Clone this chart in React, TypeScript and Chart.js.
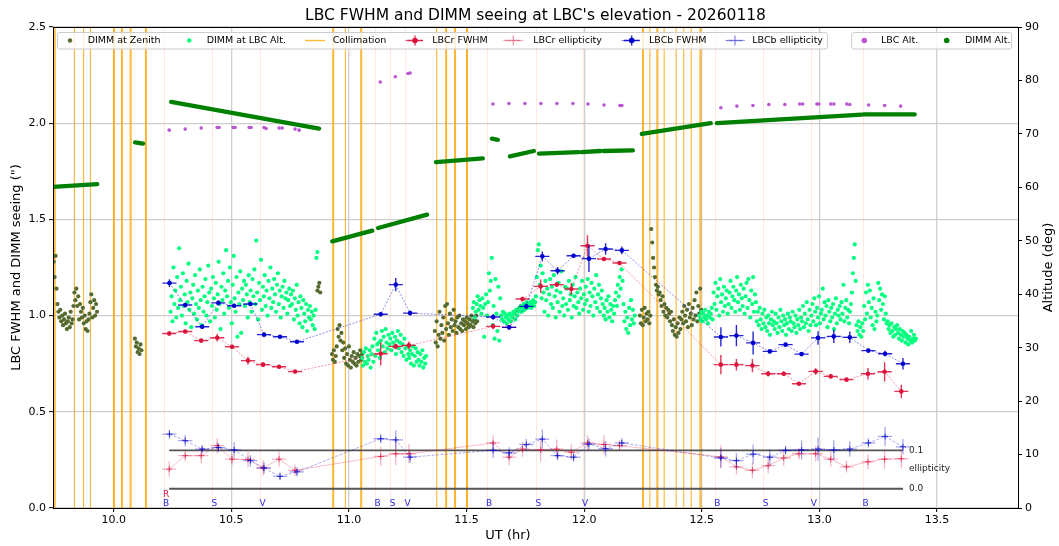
import React, { useEffect, useRef } from 'react';
import { Chart, registerables } from 'chart.js';
Chart.register(...registerables);

const FONT = "'DejaVu Sans', 'Liberation Sans', sans-serif";

// ---------------- axes ----------------
const X_MIN = 9.742;
const X_MAX = 13.844;
const X_TICKS = [10.0, 10.5, 11.0, 11.5, 12.0, 12.5, 13.0, 13.5];
const Y_TICKS = [0.0, 0.5, 1.0, 1.5, 2.0, 2.5];
const ALT_TICKS = [0, 10, 20, 30, 40, 50, 60, 70, 80, 90];

// ---------------- DIMM seeing (sampled every DIMM_DT hours) ----------------
const DIMM_DT = 0.004;
const zenA_T0 = 9.745;
const zenA = [1.28, 1.20, 1.31, 1.14, 1.06, 1.02, 0.99, 1.03, 0.97, 1.00, 0.95, 0.98, 1.01, 0.96,
  0.93, 0.97, 0.99, 0.94, 1.02, 0.96, 0.98, 1.05, 1.12, 1.08, 1.14, 1.05, 1.10, 0.98, 1.06, 1.02,
  0.99, 1.04, 0.96, 1.00, 0.93, 0.97, 0.92, 0.98, 1.01, 1.07, 1.11, 0.99, 1.04, 1.08, 1.00, 1.06, 1.02];
const zenB_T0 = 10.090;
const zenB = [0.88, 0.84, 0.86, 0.81, 0.83, 0.80, 0.85, 0.82];
const zenC_T0 = 10.866;
const zenC = [1.13, 1.15, 1.17, 1.12];
const zenD_T0 = 10.928;
const zenD = [0.80, 0.77, 0.82, 0.76, 0.79, 0.84, 0.93, 0.89, 0.95, 0.87, 0.91, 0.82, 0.86, 0.78, 0.83,
  0.75, 0.80, 0.74, 0.84, 0.77, 0.73, 0.79, 0.76, 0.81, 0.75, 0.78, 0.74, 0.80, 0.76, 0.79, 0.82, 0.77, 0.80];
const zenE_T0 = 11.365;
const zenE = [0.92, 0.86, 0.97, 0.84, 0.90, 1.02, 0.88, 0.95, 0.91, 0.99, 0.87, 1.05, 0.93, 1.06, 0.96,
  0.90, 1.01, 0.94, 0.98, 0.92, 1.03, 0.95, 0.97, 0.91, 0.99, 0.94, 1.00, 0.93, 0.96, 0.92, 0.98, 0.95,
  0.97, 0.93, 0.99, 0.96, 0.94, 0.98, 0.95, 1.00, 0.97, 0.94, 0.98, 0.96, 1.00, 0.97];
const zenG_T0 = 12.237;
const zenG = [1.00, 0.96, 1.03, 0.95, 0.99, 1.04, 0.97, 1.01, 0.98, 1.02, 0.96, 1.00,
  1.45, 1.38, 1.30, 1.25, 1.20, 1.16, 1.13, 1.15, 1.11, 1.12,
  1.08, 1.05, 1.10, 1.02, 1.06, 1.00, 1.04, 0.99, 1.03, 1.01, 0.97, 1.02,
  0.95, 0.92, 0.98, 0.90, 0.94, 0.89, 0.96, 0.91, 0.99, 0.93,
  0.98, 1.02, 0.96, 1.05, 1.00, 0.97, 1.03, 0.94, 1.06, 0.99, 1.01, 0.95, 1.04, 0.98, 1.08, 1.00,
  1.12, 0.97, 1.05, 1.01, 1.14, 1.03];

const altP_T0 = 10.238;
const altP = [1.17, 1.02, 1.10, 0.97, 1.25, 1.06, 1.13, 0.99, 1.20, 1.04,
  1.35, 1.08, 1.15, 1.00, 1.22, 1.05, 1.11, 0.96, 1.18, 1.07,
  1.27, 1.03, 1.12, 0.94, 1.09, 1.16, 1.01, 1.21, 1.06, 0.98,
  1.13, 1.04, 1.24, 1.08, 0.95, 1.15, 1.02, 1.10, 1.19, 1.00,
  1.07, 1.26, 1.12, 0.97, 1.14, 1.05, 1.20, 1.09, 0.99, 1.17,
  1.03, 1.11, 1.28, 1.06, 0.93, 1.15, 1.08, 1.22, 1.01, 1.13,
  1.34, 1.10, 1.18, 1.04, 1.25, 1.07, 0.96, 1.16, 1.31, 1.09,
  1.02, 1.20, 0.89, 1.12, 1.06, 1.23, 0.91, 1.14, 1.08, 1.18,
  1.05, 1.16, 1.11, 0.99, 1.21, 1.07, 1.13, 1.02, 1.19, 1.10,
  1.24, 1.06, 1.39, 1.12, 0.98, 1.17, 1.08, 1.29, 1.03, 1.15,
  1.10, 1.21, 1.05, 1.13, 1.00, 1.18, 1.09, 1.25, 1.04, 1.14,
  1.07, 1.19, 1.11, 1.02, 1.16, 1.22, 1.06, 1.13, 0.99, 1.10,
  1.15, 1.04, 1.18, 1.09, 1.12, 1.01, 1.08, 1.14, 1.05, 1.11,
  1.06, 1.13, 0.98, 1.09, 1.03, 1.16, 1.00, 1.07, 0.96, 1.10,
  1.04, 0.94, 1.08, 1.01, 0.97, 1.06, 0.92, 1.03, 0.99, 1.05,
  0.98, 1.02, 0.95, 1.00, 0.93, 1.03, 1.30, 1.33];
const altQ_T0 = 11.056;
const altQ = [0.78, 0.74, 0.81, 0.76, 0.83, 0.75, 0.79, 0.77, 0.82, 0.73,
  0.80, 0.84, 0.76, 0.88, 0.79, 0.91, 0.85, 0.82, 0.86, 0.78,
  0.87, 0.92, 0.84, 0.89, 0.81, 0.93, 0.86, 0.83, 0.90, 0.85,
  0.88, 0.82, 0.91, 0.86, 0.84, 0.89, 0.80, 0.87, 0.92, 0.83,
  0.86, 0.90, 0.81, 0.85, 0.79, 0.88, 0.83, 0.77, 0.84, 0.80,
  0.78, 0.82, 0.75, 0.80, 0.84, 0.74, 0.79, 0.83, 0.76, 0.81,
  0.77, 0.74, 0.80, 0.76, 0.82, 0.73, 0.78, 0.75, 0.79];
const altR_T0 = 11.527;
const altR = [1.04, 1.07, 0.99, 1.02, 1.06, 1.10, 1.03, 1.08, 1.05, 1.01,
  1.09, 1.04, 0.89, 1.06, 1.11, 1.00, 1.07, 1.22, 1.13, 1.18,
  1.30, 0.95, 1.05, 0.88, 1.19, 1.01, 0.92, 1.15, 0.87, 1.09,
  1.00, 0.98, 1.02, 0.97, 1.01, 0.99, 0.96, 1.00, 0.98, 1.01,
  0.97, 1.00, 0.99, 1.02, 1.01, 0.98, 1.03, 1.00, 1.02, 1.04,
  1.03, 1.05, 1.02, 1.04, 1.06, 1.03, 1.05, 1.07, 1.04, 1.06,
  1.05, 1.07, 1.04, 1.06, 1.08, 1.05, 1.07, 1.10, 1.20, 1.34,
  1.37, 1.16, 1.26, 1.09, 1.22, 1.12, 1.02, 1.18, 1.08, 1.14,
  1.00, 1.11, 1.19, 1.06, 1.15, 1.04, 1.21, 1.10, 0.99, 1.13,
  1.07, 1.17, 1.02, 1.12, 1.23, 1.05, 1.09, 1.00, 1.15, 1.06,
  1.14, 1.03, 1.18, 1.08, 1.11, 0.99, 1.16, 1.05, 1.10, 1.20,
  1.04, 1.12, 1.07, 1.01, 1.14, 1.09, 1.18, 1.03, 1.11, 1.06,
  1.15, 1.08, 1.19, 1.02, 1.12, 1.05, 1.17, 1.10, 1.00, 1.14,
  1.07, 1.21, 1.04, 1.11, 1.16, 1.02, 1.09, 1.13, 1.06, 1.00,
  1.04, 0.98, 1.08, 1.02, 1.10, 0.99, 1.06, 1.03, 0.97, 1.05,
  1.01, 1.08, 1.12, 1.05, 1.16, 1.10, 1.20, 1.14, 1.24, 1.18,
  1.06, 0.97, 1.02, 0.93, 0.99, 0.91, 1.04, 0.95, 1.08, 0.98,
  1.03, 0.96, 1.00];
const altH_T0 = 12.490;
const altH = [1.00, 0.98, 1.02, 0.97, 1.01, 0.99, 1.03, 0.98, 1.00, 0.96,
  1.02, 0.99, 1.01, 1.04, 0.98, 1.12, 1.06, 1.17, 1.03, 1.10,
  1.14, 1.00, 1.19, 1.07, 1.11, 1.02, 1.15, 1.05, 1.09, 1.13,
  1.01, 1.06, 1.12, 1.18, 1.04, 1.10, 1.15, 1.08, 1.02, 1.13,
  1.20, 1.07, 1.11, 1.03, 1.16, 1.09, 1.05, 1.14, 1.01, 1.10,
  1.17, 1.04, 1.19, 1.08, 0.99, 1.13, 1.06, 1.20, 1.02, 1.11,
  1.07, 0.97, 1.02, 0.95, 1.04, 0.98, 0.93, 1.01, 0.96, 1.03,
  0.94, 0.99, 0.92, 1.00, 0.96, 0.90, 0.98, 1.02, 0.95, 0.97,
  0.93, 1.01, 0.96, 0.91, 0.99, 0.94, 1.03, 0.97, 0.92, 1.00,
  0.95, 0.98, 0.90, 0.96, 1.01, 0.93, 0.99, 0.97, 0.92, 1.02,
  0.96, 0.94, 1.00, 0.91, 0.98, 0.95, 1.03, 0.93, 0.99, 0.97,
  1.05, 0.94, 1.01, 0.96, 1.07, 0.98, 0.92, 1.03, 0.95, 1.00,
  1.06, 0.97, 1.09, 1.02, 0.95, 1.04, 0.99, 1.10, 0.96, 1.01,
  1.03, 1.14, 0.98, 1.07, 1.00, 1.05, 0.94, 1.08, 1.02, 0.97,
  1.04, 0.99, 1.06, 0.93, 1.01, 1.09, 0.96, 1.03, 1.00, 1.05,
  0.98, 1.07, 1.01, 1.16, 0.97, 1.04, 1.08, 0.99, 1.03, 0.96,
  1.02, 1.06, 1.12, 1.22, 1.30, 1.37, 1.18, 0.95, 0.92, 0.97,
  0.90, 0.94, 0.89, 0.96, 0.92, 1.05, 0.98, 1.12, 1.01, 1.16,
  1.07, 1.13, 0.99, 1.04, 0.95, 1.09, 0.93, 1.02, 0.97, 1.00,
  1.17, 1.08, 1.14, 1.03, 1.11, 1.06, 0.98, 1.10, 1.01, 0.96,
  0.97, 0.93, 0.95, 0.91, 0.96, 0.92, 0.89, 0.94, 0.90, 0.93,
  0.95, 0.91, 0.88, 0.93, 0.90, 0.87, 0.92, 0.89, 0.91, 0.86,
  0.90, 0.88, 0.85, 0.89, 0.87, 0.92, 0.86, 0.88, 0.90, 0.87, 0.88];

// ---------------- collimation & filter changes ----------------
const collimationT = [9.747, 9.751, 9.833, 9.872, 9.901, 9.999, 10.003, 10.033, 10.037, 10.070, 10.074,
  10.135, 10.139, 10.931, 10.935, 10.985, 11.050, 11.054, 11.373, 11.411, 11.415, 11.449, 11.453,
  11.500, 11.504, 12.248, 12.252, 12.279, 12.309, 12.313, 12.340, 12.391, 12.423, 12.455, 12.492, 12.496];
const filterT = [10.212, 10.417, 10.622, 11.111, 11.175, 11.239, 11.585, 11.794, 11.993, 12.555, 12.760, 12.966, 13.185];
const filterBlue = ['B', 'S', 'V', 'B', 'S', 'V', 'B', 'S', 'V', 'B', 'S', 'V', 'B'];
const filterRedT = [10.212];
const filterRed = ['R'];

// ---------------- LBC image quality ----------------
const redT = [10.236, 10.304, 10.372, 10.440, 10.503, 10.571, 10.635, 10.703, 10.771, 11.135, 11.199, 11.255,
  11.613, 11.681, 11.738, 11.815, 11.883, 11.945, 12.014, 12.084, 12.150, 12.581, 12.647, 12.715, 12.782,
  12.848, 12.913, 12.984, 13.048, 13.115, 13.206, 13.277, 13.348];
const redFwhm = [0.907, 0.917, 0.870, 0.885, 0.838, 0.766, 0.745, 0.734, 0.709, 0.802, 0.840, 0.845,
  0.944, 0.939, 1.086, 1.152, 1.161, 1.138, 1.363, 1.294, 1.273, 0.745, 0.745, 0.740, 0.698,
  0.698, 0.646, 0.710, 0.684, 0.667, 0.698, 0.708, 0.606];
const redFwhmErr = [0.012, 0.01, 0.008, 0.02, 0.01, 0.02, 0.012, 0.008, 0.006, 0.06, 0.015, 0.02,
  0.015, 0.01, 0.012, 0.035, 0.012, 0.03, 0.055, 0.008, 0.008, 0.05, 0.03, 0.035, 0.015,
  0.012, 0.008, 0.017, 0.008, 0.008, 0.03, 0.05, 0.035];
const redEll = [0.051, 0.086, 0.086, 0.112, 0.077, 0.076, 0.054, 0.077, 0.048, 0.084, 0.091, 0.091,
  0.119, 0.082, 0.103, 0.101, 0.103, 0.095, 0.119, 0.115, 0.112, 0.083, 0.057, 0.048, 0.060,
  0.080, 0.091, 0.091, 0.077, 0.057, 0.070, 0.077, 0.078];
const redEllErr = [0.02, 0.015, 0.02, 0.02, 0.015, 0.02, 0.02, 0.02, 0.015, 0.025, 0.03, 0.025,
  0.02, 0.02, 0.02, 0.03, 0.025, 0.02, 0.02, 0.025, 0.015, 0.03, 0.02, 0.02, 0.02,
  0.02, 0.015, 0.02, 0.02, 0.015, 0.02, 0.025, 0.025];

const blueT = [10.237, 10.304, 10.376, 10.445, 10.512, 10.581, 10.639, 10.707, 10.779, 11.135, 11.199, 11.260,
  11.613, 11.681, 11.754, 11.822, 11.887, 11.955, 12.020, 12.091, 12.160, 12.581, 12.647, 12.718, 12.789,
  12.856, 12.924, 12.994, 13.061, 13.129, 13.208, 13.279, 13.355];
const blueFwhm = [1.169, 1.055, 0.942, 1.066, 1.051, 1.060, 0.901, 0.890, 0.864, 1.007, 1.161, 1.013,
  0.993, 0.939, 1.048, 1.308, 1.233, 1.311, 1.296, 1.346, 1.339, 0.889, 0.896, 0.858, 0.814,
  0.849, 0.800, 0.884, 0.892, 0.887, 0.818, 0.802, 0.750];
const blueFwhmErr = [0.02, 0.012, 0.01, 0.012, 0.01, 0.01, 0.008, 0.008, 0.008, 0.01, 0.035, 0.012,
  0.015, 0.01, 0.015, 0.025, 0.02, 0.01, 0.07, 0.03, 0.02, 0.05, 0.055, 0.06, 0.008,
  0.01, 0.008, 0.035, 0.035, 0.03, 0.01, 0.015, 0.03];
const blueEll = [0.142, 0.125, 0.103, 0.107, 0.101, 0.073, 0.054, 0.032, 0.044, 0.130, 0.127, 0.082,
  0.100, 0.093, 0.115, 0.129, 0.086, 0.082, 0.116, 0.104, 0.119, 0.080, 0.073, 0.090, 0.082,
  0.100, 0.101, 0.103, 0.101, 0.103, 0.119, 0.136, 0.109];
const blueEllErr = [0.012, 0.015, 0.01, 0.012, 0.02, 0.015, 0.015, 0.01, 0.012, 0.012, 0.025, 0.015,
  0.02, 0.015, 0.015, 0.025, 0.012, 0.012, 0.015, 0.02, 0.012, 0.025, 0.02, 0.025, 0.02,
  0.012, 0.025, 0.03, 0.025, 0.02, 0.012, 0.025, 0.02];
const EXPOSURE_HALF = 0.03; // hours, x error bar
const ELL_BASE = 0.1;        // ellipticity 0 is drawn at 0.1 on the seeing axis
const ELL_GAIN = 2;          // 0.1 ellipticity = 0.2 on the seeing axis
const ELL_LEVELS = [0.0, 0.1];

// ---------------- altitudes (deg) ----------------
const lbcAltT = [10.236, 10.304, 10.372, 10.440, 10.448, 10.508, 10.516, 10.576, 10.584, 10.639, 10.648,
  10.703, 10.716, 10.771, 10.788, 11.133, 11.197, 11.251, 11.260, 11.612, 11.680, 11.748, 11.816, 11.884,
  11.952, 12.016, 12.084, 12.152, 12.160, 12.581, 12.649, 12.717, 12.785, 12.853, 12.916, 12.929, 12.989,
  12.997, 13.048, 13.061, 13.116, 13.129, 13.209, 13.277, 13.345];
const lbcAltDeg = [70.7, 70.9, 71.1, 71.2, 71.2, 71.2, 71.2, 71.2, 71.2, 71.2, 71.0, 71.1, 71.1, 70.9, 70.7,
  79.7, 80.7, 81.3, 81.4, 75.6, 75.7, 75.7, 75.7, 75.7, 75.7, 75.6, 75.4, 75.3, 75.3,
  74.9, 75.2, 75.3, 75.5, 75.5, 75.6, 75.6, 75.6, 75.6, 75.6, 75.6, 75.6, 75.5, 75.4, 75.3, 75.2];
const dimmAltStartT = [9.742, 10.091, 10.244, 10.929, 11.124, 11.370, 11.608, 11.684, 11.808, 11.989, 12.082, 12.245, 12.564, 13.188];
const dimmAltStartDeg = [60.1, 68.4, 76.0, 49.9, 52.4, 64.7, 69.1, 65.8, 66.3, 66.6, 66.8, 70.0, 72.0, 73.65];
const dimmAltEndT = [9.930, 10.125, 10.873, 11.099, 11.332, 11.569, 11.633, 11.786, 11.976, 12.069, 12.207, 12.538, 13.180, 13.405];
const dimmAltEndDeg = [60.6, 68.2, 71.0, 51.9, 54.9, 65.4, 68.9, 66.8, 66.6, 66.8, 66.9, 72.0, 73.6, 73.65];

// ---------------- helpers ----------------
const sampled = (t0: number, vs: number[]) => vs.map((v, i) => ({ x: t0 + i * DIMM_DT, y: v }));
const pairs = (ts: number[], vs: number[]) => ts.map((t, i) => ({ x: t, y: vs[i] }));
const ellPts = (ts: number[], es: number[]) => ts.map((t, i) => ({ x: t, y: ELL_BASE + ELL_GAIN * es[i] }));

const C_OLIVE = '#556B2F';
const C_SPRING = '#00FF7F';
const C_ORANGE = 'rgba(255,165,0,0.8)';
const C_RED = '#DC143C';
const C_BLUE = '#0000CD';
const C_ORCHID = '#BA55D3';
const C_GREEN = '#008000';

const errorBarPlugin = {
  id: 'errorBars',
  beforeDatasetDraw(chart: any, args: any) {
    const ds: any = chart.data.datasets[args.index];
    if (!ds.errY) return;
    const xs = chart.scales.x;
    const ys = chart.scales[ds.yAxisID || 'y'];
    const ctx = chart.ctx;
    ctx.save();
    ctx.strokeStyle = ds.errColor;
    ctx.lineWidth = ds.errWidth;
    ds.data.forEach((p: any, i: number) => {
      const px = xs.getPixelForValue(p.x);
      const py = ys.getPixelForValue(p.y);
      ctx.beginPath();
      ctx.moveTo(xs.getPixelForValue(p.x - ds.errX), py);
      ctx.lineTo(xs.getPixelForValue(p.x + ds.errX), py);
      ctx.moveTo(px, ys.getPixelForValue(p.y - ds.errY[i]));
      ctx.lineTo(px, ys.getPixelForValue(p.y + ds.errY[i]));
      ctx.stroke();
    });
    ctx.restore();
  },
};

function drawLegend(ctx: CanvasRenderingContext2D) {
  const cy = 40.5;
  const box = (x0: number, x1: number) => {
    ctx.save();
    ctx.beginPath();
    ctx.roundRect(x0, 32.5, x1 - x0, 16.5, 2.5);
    ctx.fillStyle = 'rgba(255,255,255,0.8)';
    ctx.fill();
    ctx.strokeStyle = '#cccccc';
    ctx.lineWidth = 1;
    ctx.stroke();
    ctx.restore();
  };
  const dot = (x: number, r: number, c: string) => {
    ctx.beginPath(); ctx.arc(x, cy, r, 0, Math.PI * 2); ctx.fillStyle = c; ctx.fill();
  };
  const text = (x: number, s: string) => {
    ctx.fillStyle = '#000'; ctx.font = `9.5px ${FONT}`; ctx.textAlign = 'left'; ctx.textBaseline = 'middle';
    ctx.fillText(s, x, cy + 0.5);
  };
  const errMark = (x: number, col: string, lineCol: string, bar: string, filled: boolean) => {
    ctx.save();
    ctx.strokeStyle = lineCol; ctx.lineWidth = 1; ctx.setLineDash(filled ? [2, 2] : [3, 1.5]);
    ctx.beginPath(); ctx.moveTo(x - 10, cy); ctx.lineTo(x + 10, cy); ctx.stroke();
    ctx.setLineDash([]);
    ctx.strokeStyle = bar; ctx.lineWidth = 1.3;
    ctx.beginPath(); ctx.moveTo(x - 8, cy); ctx.lineTo(x + 8, cy); ctx.moveTo(x, cy - 5); ctx.lineTo(x, cy + 5); ctx.stroke();
    if (filled) { dot(x, 2.8, col); }
    ctx.restore();
  };
  box(57.5, 827.5);
  dot(70, 2.2, C_OLIVE); text(87.7, 'DIMM at Zenith');
  dot(189.3, 2.2, C_SPRING); text(206.7, 'DIMM at LBC Alt.');
  ctx.strokeStyle = C_ORANGE; ctx.lineWidth = 1.3;
  ctx.beginPath(); ctx.moveTo(305, cy); ctx.lineTo(325, cy); ctx.stroke();
  text(332.7, 'Collimation');
  errMark(415, C_RED, 'rgba(220,20,60,0.5)', 'rgba(220,20,60,0.9)', true); text(432.3, 'LBCr FWHM');
  errMark(513.3, C_RED, 'rgba(220,20,60,0.35)', 'rgba(220,20,60,0.45)', false); text(533.3, 'LBCr ellipticity');
  errMark(631.7, C_BLUE, 'rgba(0,0,205,0.5)', 'rgba(0,0,205,0.9)', true); text(649, 'LBCb FWHM');
  errMark(735, C_BLUE, 'rgba(0,0,205,0.35)', 'rgba(0,0,205,0.45)', false); text(752.3, 'LBCb ellipticity');
  box(851.7, 1011.7);
  dot(864.3, 2.8, C_ORCHID); text(881, 'LBC Alt.');
  dot(946.7, 2.8, C_GREEN); text(965, 'DIMM Alt.');
}

const overlayPlugin = {
  id: 'overlay',
  beforeDatasetsDraw(chart: any) {
    const { ctx, chartArea: a, scales } = chart;
    const xs = scales.x;
    ctx.save();
    ctx.beginPath();
    ctx.rect(a.left, a.top, a.right - a.left, a.bottom - a.top);
    ctx.clip();
    ctx.lineWidth = 1;
    ctx.strokeStyle = 'rgba(250,150,110,0.22)';
    filterT.forEach((t) => {
      const px = Math.round(xs.getPixelForValue(t)) + 0.5;
      ctx.beginPath(); ctx.moveTo(px, a.top); ctx.lineTo(px, a.bottom); ctx.stroke();
    });
    ctx.strokeStyle = C_ORANGE;
    ctx.lineWidth = 1.1;
    collimationT.forEach((t) => {
      const px = xs.getPixelForValue(t);
      ctx.beginPath(); ctx.moveTo(px, a.top); ctx.lineTo(px, a.bottom); ctx.stroke();
    });
    ctx.restore();
  },
  afterDatasetsDraw(chart: any) {
    const { ctx, scales } = chart;
    const xs = scales.x, ys = scales.y;
    ctx.save();
    ctx.font = `9px ${FONT}`;
    ctx.textAlign = 'center';
    ctx.textBaseline = 'middle';
    ctx.fillStyle = 'rgb(40,40,220)';
    filterT.forEach((t, i) => ctx.fillText(filterBlue[i], xs.getPixelForValue(t) + 2.5, ys.getPixelForValue(0.022)));
    ctx.fillStyle = C_RED;
    filterRedT.forEach((t, i) => ctx.fillText(filterRed[i], xs.getPixelForValue(t) + 2.5, ys.getPixelForValue(0.068)));
    // ellipticity scale labels
    const xEnd = xs.getPixelForValue(Math.max(redT[redT.length - 1], blueT[blueT.length - 1])) + 6;
    ctx.textAlign = 'left';
    ctx.fillStyle = '#222';
    ELL_LEVELS.forEach((e) => ctx.fillText(e.toFixed(1), xEnd, ys.getPixelForValue(ELL_BASE + ELL_GAIN * e)));
    const mid = (ys.getPixelForValue(ELL_BASE) + ys.getPixelForValue(ELL_BASE + ELL_GAIN * 0.1)) / 2;
    ctx.fillText('ellipticity', xEnd, mid - 1);
    ctx.restore();
  },
  afterDraw(chart: any) {
    const { ctx, chartArea: a } = chart;
    ctx.save();
    ctx.strokeStyle = '#000';
    ctx.lineWidth = 1;
    ctx.strokeRect(Math.round(a.left) + 0.5, Math.round(a.top) + 0.5, Math.round(a.right - a.left), Math.round(a.bottom - a.top));
    ctx.fillStyle = '#000';
    ctx.textAlign = 'center';
    ctx.textBaseline = 'middle';
    ctx.font = `15.5px ${FONT}`;
    ctx.fillText("LBC FWHM and DIMM seeing at LBC's elevation - 20260118", (a.left + a.right) / 2, 16);
    ctx.font = `13px ${FONT}`;
    ctx.fillText('UT (hr)', 508, 536);
    ctx.save();
    ctx.translate(17, (a.top + a.bottom) / 2);
    ctx.rotate(-Math.PI / 2);
    ctx.fillText('LBC FWHM and DIMM seeing (")', 0, 0);
    ctx.restore();
    ctx.save();
    ctx.translate(1049, (a.top + a.bottom) / 2);
    ctx.rotate(-Math.PI / 2);
    ctx.fillText('Altitude (deg)', 0, 0);
    ctx.restore();
    drawLegend(ctx);
    ctx.restore();
  },
};

export default function App() {
  const ref = useRef<HTMLCanvasElement | null>(null);
  useEffect(() => {
    if (!ref.current) return;
    const dimmAlt: any[] = [];
    dimmAltStartT.forEach((t, i) => {
      dimmAlt.push({ x: t, y: dimmAltStartDeg[i] }, { x: dimmAltEndT[i], y: dimmAltEndDeg[i] }, { x: dimmAltEndT[i] + 0.001, y: null });
    });
    const ellStart = Math.min(redT[0], blueT[0]);
    const ellEnd = Math.max(redT[redT.length - 1], blueT[blueT.length - 1]);
    const zen = [...sampled(zenA_T0, zenA), ...sampled(zenB_T0, zenB), ...sampled(zenC_T0, zenC),
      ...sampled(zenD_T0, zenD), ...sampled(zenE_T0, zenE), ...sampled(zenG_T0, zenG)];
    const alt = [...sampled(altP_T0, altP), ...sampled(altQ_T0, altQ), ...sampled(altR_T0, altR), ...sampled(altH_T0, altH)];
    const tickFont = { family: FONT, size: 11 };
    const chart = new Chart(ref.current, {
      type: 'scatter',
      data: {
        datasets: [
          { label: 'DIMM Alt.', yAxisID: 'y2', data: dimmAlt, showLine: true, spanGaps: false, borderColor: C_GREEN,
            borderWidth: 4.3, borderCapStyle: 'round', pointRadius: 0, order: 0 } as any,
          { label: 'LBC Alt.', yAxisID: 'y2', data: pairs(lbcAltT, lbcAltDeg), backgroundColor: C_ORCHID,
            pointRadius: 1.8, pointBorderWidth: 0, order: 1 } as any,
          { label: 'LBCb ellipticity', yAxisID: 'y', data: ellPts(blueT, blueEll), showLine: true,
            borderColor: 'rgba(0,0,205,0.4)', borderWidth: 0.8, borderDash: [3, 1.5], pointStyle: 'cross', pointRadius: 3,
            pointBorderColor: 'rgba(0,0,205,0.75)', pointBorderWidth: 1, errX: EXPOSURE_HALF,
            errY: blueEllErr.map((e) => e * ELL_GAIN), errColor: 'rgba(0,0,205,0.35)', errWidth: 1.3, order: 2 } as any,
          { label: 'LBCr ellipticity', yAxisID: 'y', data: ellPts(redT, redEll), showLine: true,
            borderColor: 'rgba(220,20,60,0.35)', borderWidth: 0.8, pointStyle: 'cross', pointRadius: 3,
            pointBorderColor: 'rgba(220,20,60,0.7)', pointBorderWidth: 1, errX: EXPOSURE_HALF,
            errY: redEllErr.map((e) => e * ELL_GAIN), errColor: 'rgba(220,20,60,0.3)', errWidth: 1.3, order: 3 } as any,
          { label: 'LBCb FWHM', yAxisID: 'y', data: pairs(blueT, blueFwhm), showLine: true,
            borderColor: 'rgba(0,0,205,0.5)', borderWidth: 0.9, borderDash: [2, 1.5], backgroundColor: C_BLUE,
            pointRadius: 2.3, pointBorderWidth: 0, errX: EXPOSURE_HALF, errY: blueFwhmErr,
            errColor: 'rgba(0,0,205,0.85)', errWidth: 1.4, order: 4 } as any,
          { label: 'LBCr FWHM', yAxisID: 'y', data: pairs(redT, redFwhm), showLine: true,
            borderColor: 'rgba(220,20,60,0.5)', borderWidth: 0.9, borderDash: [2, 1.5], backgroundColor: C_RED,
            pointRadius: 2.3, pointBorderWidth: 0, errX: EXPOSURE_HALF, errY: redFwhmErr,
            errColor: 'rgba(220,20,60,0.85)', errWidth: 1.4, order: 5 } as any,
          ...ELL_LEVELS.map((e, i) => ({ label: 'ell ' + e, yAxisID: 'y', showLine: true,
            data: [{ x: ellStart, y: ELL_BASE + ELL_GAIN * e }, { x: ellEnd, y: ELL_BASE + ELL_GAIN * e }],
            borderColor: '#555555', borderWidth: 1.8, pointRadius: 0, order: 6 + i } as any)),
          { label: 'DIMM at LBC Alt.', yAxisID: 'y', data: alt, backgroundColor: C_SPRING, pointRadius: 2.1,
            pointBorderWidth: 0, order: 8 } as any,
          { label: 'DIMM at Zenith', yAxisID: 'y', data: zen, backgroundColor: C_OLIVE, pointRadius: 2.1,
            pointBorderWidth: 0, order: 9 } as any,
        ],
      },
      options: {
        animation: false,
        responsive: false,
        layout: { padding: { top: 27, left: 0, right: 0, bottom: 0 } },
        plugins: { legend: { display: false }, title: { display: false }, tooltip: { enabled: false } },
        scales: {
          x: {
            type: 'linear', min: X_MIN, max: X_MAX,
            afterBuildTicks: (s: any) => { s.ticks = X_TICKS.map((v) => ({ value: v })); },
            afterFit: (s: any) => { s.height = 38; },
            ticks: { font: tickFont, color: '#000', padding: 2, maxRotation: 0, callback: (v: any) => Number(v).toFixed(1) },
            grid: { color: '#cfcfcf', lineWidth: 1.3, tickColor: '#000', tickLength: 4, tickWidth: 1 },
            border: { display: false },
          },
          y: {
            type: 'linear', position: 'left', min: 0, max: 2.5,
            afterBuildTicks: (s: any) => { s.ticks = Y_TICKS.map((v) => ({ value: v })); },
            afterFit: (s: any) => { s.width = 53; },
            ticks: { font: tickFont, color: '#000', padding: 3, callback: (v: any) => Number(v).toFixed(1) },
            grid: { color: '#cfcfcf', lineWidth: 1.3, tickColor: '#000', tickLength: 4, tickWidth: 1 },
            border: { display: false },
          },
          y2: {
            type: 'linear', position: 'right', min: 0, max: 90,
            afterBuildTicks: (s: any) => { s.ticks = ALT_TICKS.map((v) => ({ value: v })); },
            afterFit: (s: any) => { s.width = 41; },
            ticks: { font: tickFont, color: '#000', padding: 3, callback: (v: any) => String(v) },
            grid: { drawOnChartArea: false, tickColor: '#000', tickLength: 4, tickWidth: 1 },
            border: { display: false },
          },
        },
      } as any,
      plugins: [errorBarPlugin, overlayPlugin],
    });
    return () => chart.destroy();
  }, []);
  return (
    <div style={{ position: 'absolute', left: 0, top: 0, width: 1059, height: 546, background: '#fff' }}>
      <canvas ref={ref} width={1059} height={546} style={{ width: 1059, height: 546 }} />
    </div>
  );
}
